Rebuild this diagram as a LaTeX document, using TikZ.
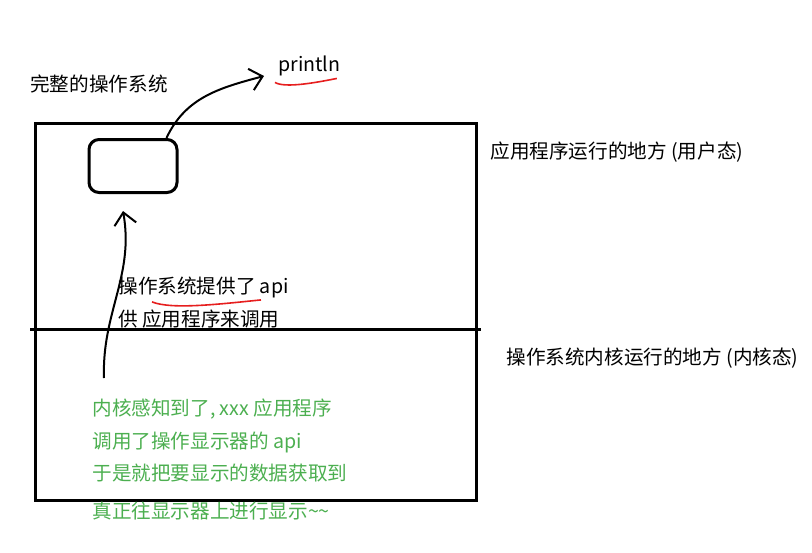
\documentclass[tikz,border=0pt]{standalone}
\usepackage{fontspec}
\setmainfont{Noto Sans CJK SC}
\usepackage{tikz}
\usetikzlibrary{arrows.meta,positioning}
\usepackage{xcolor}
\definecolor{kgreen}{RGB}{76,175,80}
\definecolor{ulred}{RGB}{230,30,30}
\tikzset{
  txt/.style={inner sep=0pt, anchor=west, font=\fontsize{9.8}{11}\selectfont},
  gtxt/.style={txt, text=kgreen},
  thick line/.style={line width=1.5pt},
  hand/.style={line width=1pt, -{Straight Barb[length=6pt,width=11pt,line width=1pt]}},
  squiggle/.style={ulred, line width=0.8pt}
}

\begin{document}
\begin{tikzpicture}[x=0.5pt, y=-0.5pt]
\useasboundingbox (0,0) rectangle (812,552);
% the whole machine
\draw[thick line] (35,123) rectangle (476,500);
\draw[thick line] (30,329) -- (481,329);
\node[txt] (os) at (30,84) {完整的操作系统};
\node[txt] (user) at (490,152) {应用程序运行的地方 (用户态)};
\node[txt] (kern) at (506,358) {操作系统内核运行的地方 (内核态)};
% the running program
\node[draw, thick line, rounded corners=5pt, minimum width=44pt, minimum height=26.5pt,
  inner sep=0pt] (box) at (133,166) {};
\node[txt] (println) at (278,66) {println};
\draw[squiggle] ([xshift=-1.5pt,yshift=-3pt]println.south west)
  .. controls +(10,6) and +(-20,4) .. ([xshift=-2pt,yshift=-1pt]println.south east);
\draw[hand] ([xshift=39.5pt]box.north west) to[out=65, in=195] ([xshift=-7pt,yshift=-5pt]println.west);
% the api
\node[txt] (api) at (118,287) {操作系统提供了 api};
\node[txt, below=16pt of api.west, anchor=west] (api2) {供 应用程序来调用};
\draw[squiggle] ([xshift=17pt,yshift=-2pt]api.south west)
  .. controls +(20,8) and +(-40,4) .. ([xshift=-14pt,yshift=-1pt]api.south east);
\coordinate (kbot) at (104,378);
\draw[hand] (kbot) to[out=92, in=-80] ([xshift=-5pt,yshift=-8.5pt]box.south);
% kernel side
\node[gtxt] (k1) at (92,409) {内核感知到了, xxx 应用程序};
\node[gtxt] (k2) at (92,442) {调用了操作显示器的 api};
\node[gtxt] (k3) at (92,473) {于是就把要显示的数据获取到};
\node[gtxt] (k4) at (92,511) {真正往显示器上进行显示\textasciitilde\textasciitilde};
\end{tikzpicture}
\end{document}
